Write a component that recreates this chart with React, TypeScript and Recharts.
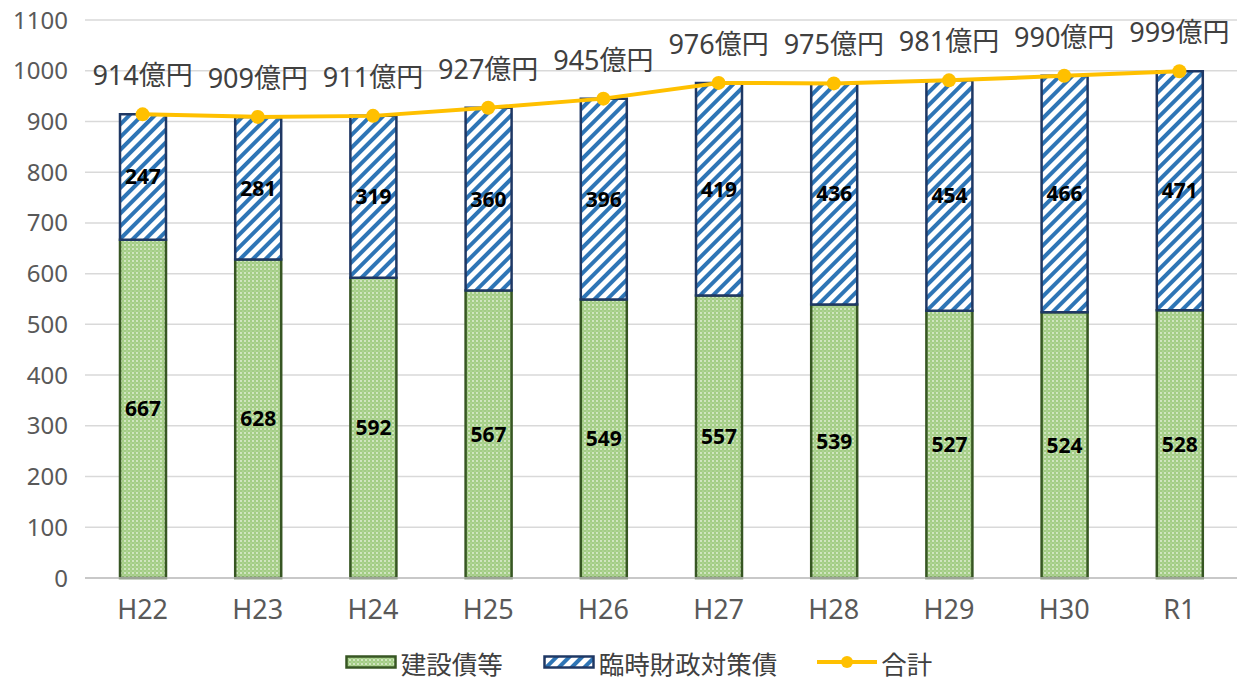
import React from "react";
import {
  ComposedChart,
  Bar,
  Line,
  XAxis,
  YAxis,
  CartesianGrid,
  Legend,
  LabelList,
} from "recharts";

const years = ["H22", "H23", "H24", "H25", "H26", "H27", "H28", "H29", "H30", "R1"];
const construction = [667, 628, 592, 567, 549, 557, 539, 527, 524, 528];
const emergency = [247, 281, 319, 360, 396, 419, 436, 454, 466, 471];
const totals = [914, 909, 911, 927, 945, 976, 975, 981, 990, 999];
const yTicks = [0, 100, 200, 300, 400, 500, 600, 700, 800, 900, 1000, 1100];

const data = years.map((y, i) => ({
  year: y,
  construction: construction[i],
  emergency: emergency[i],
  total: totals[i],
}));

const FONT = '"Noto Sans", "Noto Sans CJK JP", sans-serif';

function LegendContent() {
  const item = { display: "flex", alignItems: "center", gap: 4 } as const;
  return (
    <div
      style={{
        display: "flex",
        justifyContent: "center",
        alignItems: "center",
        height: 34,
        gap: 40,
        fontFamily: FONT,
        fontSize: 25.5,
        color: "#404040",
        marginLeft: 40,
      }}
    >
      <div style={item}>
        <svg width={52} height={14}>
          <rect x={1.5} y={1.5} width={49} height={11} fill="url(#greenDots)" stroke="#375623" strokeWidth={2.5} />
        </svg>
        <span>建設債等</span>
      </div>
      <div style={item}>
        <svg width={52} height={14}>
          <rect x={1.5} y={1.5} width={49} height={11} fill="url(#blueStripes)" stroke="#1f3864" strokeWidth={2.5} />
        </svg>
        <span>臨時財政対策債</span>
      </div>
      <div style={item}>
        <svg width={60} height={16}>
          <line x1={0} y1={8} x2={60} y2={8} stroke="#ffc000" strokeWidth={4} />
          <circle cx={30} cy={8} r={6} fill="#ffc000" />
        </svg>
        <span>合計</span>
      </div>
    </div>
  );
}

export default function App() {
  return (
    <div style={{ position: "absolute", left: 0, top: 0, background: "#fff" }}>
      <ComposedChart
        width={1246}
        height={679}
        data={data}
        margin={{ top: 20, right: 9, bottom: 0, left: 0 }}
        barSize={46}
      >
        <defs>
          <pattern id="greenDots" width={4} height={4} patternUnits="userSpaceOnUse">
            <rect width={4} height={4} fill="#a3cd85" />
            <circle cx={1} cy={1} r={0.9} fill="#e6f2dc" />
            <circle cx={3} cy={3} r={0.6} fill="#cfe6bf" />
          </pattern>
          <pattern
            id="blueStripes"
            width={9}
            height={9}
            patternUnits="userSpaceOnUse"
            patternTransform="rotate(45)"
          >
            <rect width={9} height={9} fill="#ffffff" />
            <rect width={4} height={9} fill="#2e75b6" />
          </pattern>
        </defs>
        <CartesianGrid vertical={false} stroke="#d9d9d9" strokeWidth={1.5} />
        <XAxis
          dataKey="year"
          height={67}
          tickLine={false}
          axisLine={{ stroke: "#bfbfbf", strokeWidth: 1.5 }}
          tick={{ fill: "#595959", fontSize: 27, fontFamily: FONT }}
          tickMargin={16}
        />
        <YAxis
          domain={[0, 1100]}
          ticks={yTicks}
          width={85}
          axisLine={false}
          tickLine={false}
          tickMargin={11}
          interval={0}
          tick={{ fill: "#595959", fontSize: 24, fontFamily: FONT }}
        />
        <Legend verticalAlign="bottom" height={34} content={<LegendContent />} />
        <Bar
          dataKey="construction"
          name="建設債等"
          stackId="a"
          fill="url(#greenDots)"
          stroke="#375623"
          strokeWidth={2.5}
          isAnimationActive={false}
        >
          <LabelList
            dataKey="construction"
            position="center"
            fill="#000"
            fontSize={21}
            fontWeight="bold"
            fontFamily={FONT}
          />
        </Bar>
        <Bar
          dataKey="emergency"
          name="臨時財政対策債"
          stackId="a"
          fill="url(#blueStripes)"
          stroke="#1f3864"
          strokeWidth={2.5}
          isAnimationActive={false}
        >
          <LabelList
            dataKey="emergency"
            position="center"
            fill="#000"
            fontSize={21}
            fontWeight="bold"
            fontFamily={FONT}
          />
        </Bar>
        <Line
          type="linear"
          dataKey="total"
          name="合計"
          stroke="#ffc000"
          strokeWidth={4}
          dot={{ r: 7, fill: "#ffc000", stroke: "#ffc000", strokeWidth: 0 }}
          isAnimationActive={false}
        >
          <LabelList
            dataKey="total"
            position="top"
            offset={29}
            fill="#404040"
            fontSize={27}
            fontFamily={FONT}
            formatter={(v: number) => `${v}億円`}
          />
        </Line>
      </ComposedChart>
    </div>
  );
}
